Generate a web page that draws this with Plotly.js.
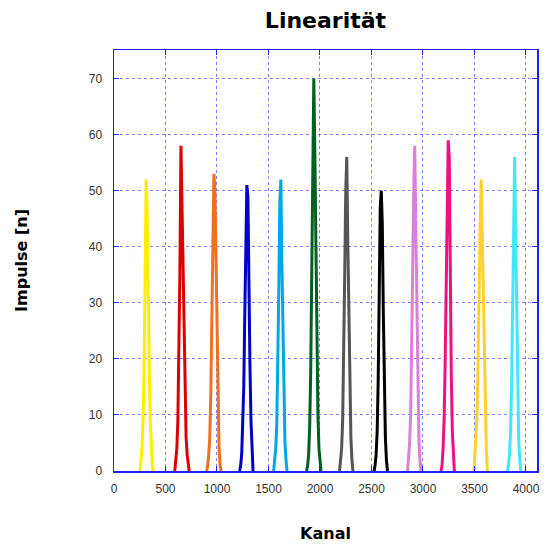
<!DOCTYPE html>
<html>
<head>
<meta charset="utf-8">
<script src="https://cdn.plot.ly/plotly-3.0.1.min.js"></script>
<style>html,body{margin:0;padding:0;background:#fff;}#chart{width:545px;height:550px;}</style>
</head>
<body>
<div id="chart"></div>
<script>
// Peak spectra (channel, counts)
const x1 = [252,262,272,282,292,302,312,322,332,342,352,362,372,380];
const y1 = [0,2,4,9,18,35,52,47,30,19,9,3,1,0];
const x2 = [590,600,610,620,630,640,650,660,670,680,690,700,710,720,730];
const y2 = [0,2,4,9,20,36,58,48,33,22,12,6,3,1,0];
const x3 = [900,910,920,930,940,950,960,970,980,990,1000,1010,1020,1030,1040];
const y3 = [0,1,3,6,14,27,44,53,50,36,22,10,4,1,0];
const x4 = [1220,1230,1240,1250,1260,1270,1280,1290,1300,1310,1320,1330,1340,1350];
const y4 = [0,1,3,8,15,28,44,51,49,30,19,9,3,0];
const x5 = [1550,1560,1570,1580,1590,1600,1610,1620,1630,1640,1650,1660,1670,1680];
const y5 = [0,2,4,8,17,32,48,52,37,25,12,5,2,0];
const x6 = [1870,1880,1890,1900,1910,1920,1930,1940,1950,1960,1970,1980,1990,2000,2010];
const y6 = [0,1,3,8,18,33,49,70,57,37,20,10,4,1,0];
const x7 = [2190,2200,2210,2220,2230,2240,2250,2260,2270,2280,2290,2300,2310,2320];
const y7 = [0,2,4,9,19,35,50,56,41,27,14,6,2,0];
const x8 = [2525,2535,2545,2555,2565,2575,2585,2595,2605,2615,2625,2635,2645,2655];
const y8 = [0,1,3,7,16,31,47,50,44,28,14,6,2,0];
const x9 = [2850,2860,2870,2880,2890,2900,2910,2920,2930,2940,2950,2960,2970,2980];
const y9 = [0,2,5,10,20,36,50,58,44,28,14,6,2,0];
const x10 = [3175,3185,3195,3205,3215,3225,3235,3245,3255,3265,3275,3285,3295,3305];
const y10 = [0,1,4,9,19,33,44,59,56,32,17,7,2,0];
const x11 = [3495,3505,3515,3525,3535,3545,3555,3565,3575,3585,3595,3605,3615,3625];
const y11 = [0,3,6,10,20,38,44,52,42,30,20,10,4,0];
const x12 = [3820,3830,3840,3850,3860,3870,3880,3890,3900,3910,3920,3930,3940,3950];
const y12 = [0,1,3,7,15,28,45,56,42,26,12,5,2,0];

const xs = [x1,x2,x3,x4,x5,x6,x7,x8,x9,x10,x11,x12];
const ys = [y1,y2,y3,y4,y5,y6,y7,y8,y9,y10,y11,y12];
const colors = ['#ffee00','#dd0000','#f07020','#0000cc','#00a8e8','#006020',
                '#555555','#000000','#da80d8','#ee1080','#ffd030','#40e8ff'];

const xTicks = [0,500,1000,1500,2000,2500,3000,3500,4000];
const yTicks = [0,10,20,30,40,50,60,70];

const traces = xs.map((x,i)=>({
  x: x, y: ys[i], type:'scatter', mode:'lines',
  line:{color:colors[i], width:3}, hoverinfo:'skip'
}));

const axisCommon = {
  showline:true, linecolor:'#2020ff', linewidth:1.5, mirror:'ticks',
  ticks:'inside', ticklen:5, tickcolor:'#2020ff', tickwidth:1,
  showgrid:true, gridcolor:'rgba(40,40,255,0.6)', griddash:'dot', gridwidth:1,
  zeroline:false,
  tickfont:{family:'Liberation Sans, Arial, sans-serif', size:12, color:'#333333'}
};

const titleFont = 'DejaVu Sans, Verdana, sans-serif';

const layout = {
  width:545, height:550,
  margin:{l:114, r:8, t:50, b:79},
  paper_bgcolor:'#ffffff', plot_bgcolor:'#ffffff',
  showlegend:false,
  title:{text:'<b>Linearität</b>', x:0.5, xanchor:'center', xref:'paper',
         y:1-20/550, yanchor:'middle', yref:'container',
         font:{family:titleFont, size:22, color:'#000'}},
  xaxis: Object.assign({}, axisCommon, {
    range:[0,4107], tickmode:'array', tickvals:xTicks, ticktext:xTicks.map(String),
    ticklabelstandoff:6,
    title:{text:'<b>Kanal</b>', standoff:33,
           font:{family:titleFont, size:16, color:'#000'}}
  }),
  yaxis: Object.assign({}, axisCommon, {
    range:[0,75.1], tickmode:'array', tickvals:yTicks, ticktext:yTicks.map(String),
    ticklabelstandoff:8,
    title:{text:'<b>Impulse [n]</b>', standoff:57,
           font:{family:titleFont, size:16, color:'#000'}}
  })
};

Plotly.newPlot('chart', traces, layout, {displayModeBar:false, staticPlot:true});
</script>
</body>
</html>
